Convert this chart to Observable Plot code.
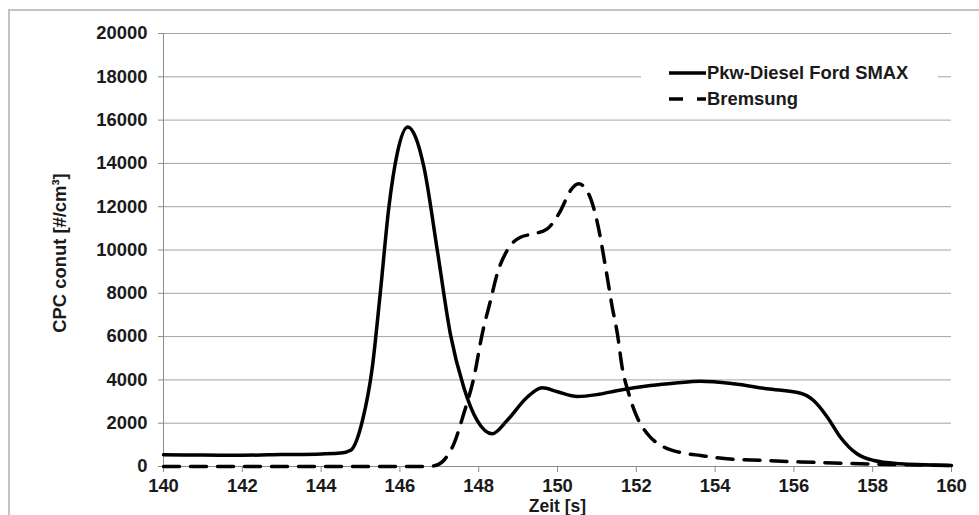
<!DOCTYPE html>
<html>
<head>
<meta charset="utf-8">
<script src="https://cdn.jsdelivr.net/npm/d3@7"></script>
<script src="https://cdn.jsdelivr.net/npm/@observablehq/plot@0.6"></script>
<style>
  html, body { margin: 0; padding: 0; background: #fff; overflow: hidden; }
  #wrap { position: relative; width: 979px; height: 515px; overflow: hidden; font-family: "Liberation Sans", Arial, sans-serif; }
  #frame { position: absolute; left: 8px; top: 9px; width: 1000px; height: 600px; border-top: 2px solid #c4c4c4; border-left: 2px solid #c4c4c4; }
  #chart { position: absolute; left: 0; top: 0; }
  #legend { position: absolute; left: 641px; top: 58px; width: 297px; height: 52px; background: #fff; }
  .row { position: absolute; left: 0; height: 22px; display: flex; align-items: center; }
  .row svg { margin-left: 28px; }
  .row span { font-weight: bold; font-size: 18.4px; color: #1a1a1a; margin-left: 1px; line-height: 22px; }
</style>
</head>
<body>
<div id="wrap">
  <div id="frame"></div>
  <div id="chart"></div>
  <div id="legend"></div>
</div>
<script>
// Series names
const seriesNames = ["Pkw-Diesel Ford SMAX", "Bremsung"];

// Pkw-Diesel Ford SMAX (solid)
const dieselTime = [140, 141, 142, 143, 144, 144.5, 144.75, 145.05, 145.3, 145.5, 145.72, 145.93, 146.2, 146.4, 146.61, 146.95, 147.28, 147.62, 147.96, 148.34, 148.72, 149.23, 149.61, 150.0, 150.5, 151.0, 151.5, 152.36, 153.0, 153.63, 154.47, 155.32, 156.17, 156.5, 156.85, 157.18, 157.6, 158.03, 158.7, 159.3, 160];
const dieselValue = [540, 530, 520, 550, 580, 620, 750, 2125, 4586, 7977, 11977, 14443, 15680, 15200, 13825, 9977, 6129, 3663, 2125, 1510, 2125, 3200, 3635, 3450, 3233, 3320, 3500, 3741, 3860, 3940, 3820, 3589, 3386, 3048, 2277, 1353, 587, 277, 125, 80, 46];

// Bremsung (dashed)
const bremsTime = [140, 142, 144, 146, 146.6, 146.86, 147.11, 147.37, 147.62, 147.88, 148.09, 148.3, 148.47, 148.72, 149.06, 149.4, 149.74, 150.08, 150.33, 150.54, 150.79, 151.0, 151.22, 151.39, 151.52, 151.64, 151.81, 152.02, 152.28, 152.7, 153.2, 153.63, 154.3, 155.2, 156.17, 157.0, 157.69, 158.5, 159.2, 160];
const bremsValue = [0, 0, 0, 0, 0, 30, 277, 1048, 2434, 4125, 6129, 7667, 8900, 9977, 10591, 10746, 10977, 11823, 12747, 13056, 12594, 11361, 9206, 7358, 6129, 4586, 3358, 2277, 1510, 900, 620, 508, 355, 280, 210, 165, 123, 90, 70, 50];

// Axis ticks and labels
const xTicks = [140, 142, 144, 146, 148, 150, 152, 154, 156, 158, 160];
const yTicks = [0, 2000, 4000, 6000, 8000, 10000, 12000, 14000, 16000, 18000, 20000];
const xLabel = "Zeit [s]";
const yLabel = "CPC conut [#/cm³]";

const diesel = dieselTime.map((t, i) => ({t, v: dieselValue[i]}));
const brems = bremsTime.map((t, i) => ({t, v: bremsValue[i]}));

const dash = "16,11";
const fs = 18.4;

const chart = Plot.plot({
  width: 979,
  height: 515,
  marginLeft: 163,
  marginRight: 28,
  marginTop: 33,
  marginBottom: 49,
  style: {fontFamily: "'Liberation Sans', Arial, sans-serif", fontSize: fs + "px", fontWeight: "bold", color: "#1a1a1a", background: "transparent", overflow: "visible"},
  x: {domain: [140, 160], label: null},
  y: {domain: [0, 20000], label: null},
  marks: [
    Plot.gridY(yTicks, {stroke: "#a4a4a4", strokeOpacity: 1, strokeWidth: 1}),
    Plot.ruleX([140], {stroke: "#8c8c8c", strokeWidth: 1}),
    Plot.ruleY([0], {stroke: "#8c8c8c", strokeWidth: 1}),
    Plot.axisY(yTicks, {tickSize: 5, tickPadding: 11, tickFormat: d => String(d), stroke: "#8c8c8c", fill: "#1a1a1a", fontWeight: "bold", fontSize: fs}),
    Plot.axisX(xTicks, {tickSize: 6, tickPadding: 6, tickFormat: d => String(d), stroke: "#8c8c8c", fill: "#1a1a1a", fontWeight: "bold", fontSize: fs}),
    Plot.line(brems, {x: "t", y: "v", curve: "monotone-x", stroke: "#000", strokeWidth: 3.5, strokeDasharray: dash}),
    Plot.line(diesel, {x: "t", y: "v", curve: "monotone-x", stroke: "#000", strokeWidth: 3.5}),
    Plot.text([xLabel], {frameAnchor: "bottom", lineAnchor: "middle", dy: 39.5, fill: "#1a1a1a", fontWeight: "bold", fontSize: 17.5}),
    Plot.text([yLabel], {frameAnchor: "left", textAnchor: "middle", lineAnchor: "middle", dx: -103, dy: 3, rotate: -90, fill: "#1a1a1a", fontWeight: "bold", fontSize: fs})
  ]
});
document.getElementById("chart").appendChild(chart);

// Legend (HTML, white box over the gridline)
const legend = document.getElementById("legend");
seriesNames.forEach((name, i) => {
  const row = document.createElement("div");
  row.className = "row";
  row.style.top = (i === 0 ? 4 : 30) + "px";
  const ns = "http://www.w3.org/2000/svg";
  const s = document.createElementNS(ns, "svg");
  s.setAttribute("width", 37); s.setAttribute("height", 10);
  const l = document.createElementNS(ns, "line");
  l.setAttribute("x1", 0); l.setAttribute("x2", 37);
  l.setAttribute("y1", 5); l.setAttribute("y2", 5);
  l.setAttribute("stroke", "#000"); l.setAttribute("stroke-width", 3.5);
  if (i === 1) l.setAttribute("stroke-dasharray", "14,14");
  s.appendChild(l);
  const t = document.createElement("span");
  t.textContent = name;
  row.appendChild(s); row.appendChild(t);
  legend.appendChild(row);
});
</script>
</body>
</html>
